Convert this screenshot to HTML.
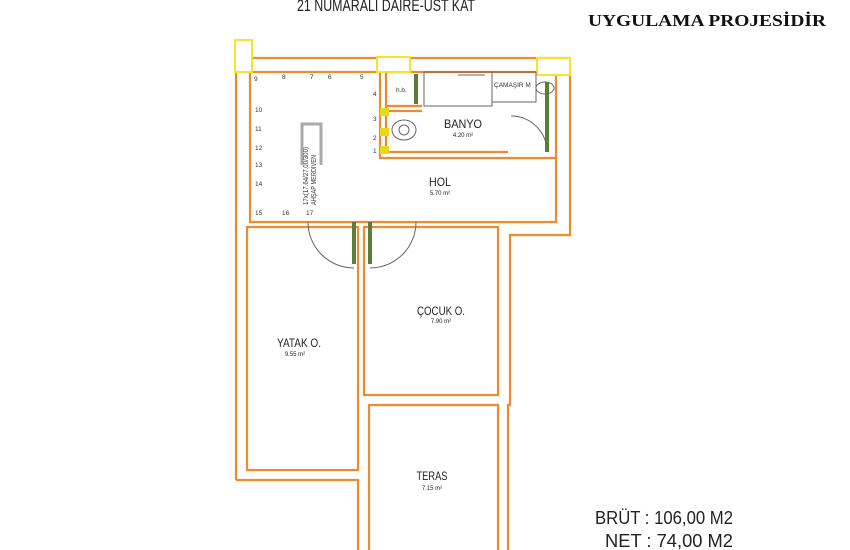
<!DOCTYPE html>
<html><head><style>
body{margin:0;background:#fff;}
svg{display:block}
text{font-family:"Liberation Sans",sans-serif;}
</style></head><body>
<svg width="850" height="550" viewBox="0 0 850 550" xmlns="http://www.w3.org/2000/svg">
<rect width="850" height="550" fill="#fff"/>
<text x="297" y="11" font-size="17" fill="#222" textLength="178" lengthAdjust="spacingAndGlyphs">21 NUMARALI DAİRE-ÜST KAT</text>
<text x="588" y="26" font-size="17" font-weight="bold" fill="#111" style="font-family:'Liberation Serif',serif" textLength="238" lengthAdjust="spacingAndGlyphs">UYGULAMA PROJESİDİR</text>
<g fill="none" stroke="#f08a30" stroke-width="2.2">
<polyline points="236,480 236,58 570,58 570,235 510,235 510,405 508,405 508,550"/>
<polyline points="358,550 358,480 236,480"/>
<polyline points="250,72 556,72 556,222 250,222 250,72"/>
<rect x="247" y="227" width="111" height="243"/>
<rect x="364" y="227" width="134" height="168"/>
<polyline points="369,550 369,405 498,405 498,550"/>
<polyline points="380,72 380,158 556,158"/>
<polyline points="386,72 386,152 508,152"/>
<line x1="386" y1="106" x2="422" y2="106"/>
<line x1="386" y1="111" x2="422" y2="111"/>
</g>
<g fill="#fff" stroke="#f5e52a" stroke-width="2">
<rect x="235" y="40" width="17" height="32"/>
<rect x="377" y="57" width="33" height="15"/>
<rect x="537" y="58" width="33" height="17"/>
</g>
<g fill="#e8d818"><rect x="380" y="108" width="9" height="8"/><rect x="380" y="128" width="9" height="8"/><rect x="380" y="146" width="9" height="8"/></g>
<g fill="none" stroke="#666" stroke-width="1">
<rect x="424" y="72" width="68" height="34"/>
<line x1="458" y1="75" x2="485" y2="75"/>
<rect x="492" y="72" width="44" height="30"/>
<ellipse cx="545" cy="88" rx="9" ry="6"/>
<ellipse cx="404" cy="130" rx="12" ry="10"/>
<circle cx="404" cy="130" r="5"/>
<path d="M547 152 A 36 36 0 0 0 511 116"/>
<path d="M308 222 A 46 46 0 0 0 354 268"/>
<path d="M416 222 A 46 46 0 0 1 370 268"/>
</g>
<g stroke="#5b7d3a" stroke-width="4" fill="none">
<line x1="416" y1="74" x2="416" y2="104"/>
<line x1="547" y1="82" x2="547" y2="152"/>
<line x1="354" y1="222" x2="354" y2="264"/>
<line x1="370" y1="222" x2="370" y2="264"/>
</g>
<path d="M302 165 L302 124 L321 124 L321 165" fill="none" stroke="#aaa" stroke-width="3"/>
<g font-size="6.5" fill="#333">
<text x="254" y="81">9</text><text x="282" y="79">8</text><text x="310" y="79">7</text><text x="328" y="79">6</text><text x="360" y="79">5</text>
<text x="373" y="96">4</text><text x="373" y="121">3</text><text x="373" y="140">2</text><text x="373" y="153">1</text>
<text x="255" y="112">10</text><text x="255" y="131">11</text><text x="255" y="150">12</text><text x="255" y="167">13</text><text x="255" y="186">14</text>
<text x="255" y="215">15</text><text x="282" y="215">16</text><text x="306" y="215">17</text>
<text x="396" y="92">h.b.</text><text x="494" y="87">ÇAMAŞIR M</text>
</g>
<text font-size="7" fill="#333" transform="translate(308,205) rotate(-90)" textLength="58" lengthAdjust="spacingAndGlyphs">17x(17.64/27.00/300)</text>
<text font-size="7" fill="#333" transform="translate(316,205) rotate(-90)" textLength="50" lengthAdjust="spacingAndGlyphs">AHŞAP MERDİVEN</text>
<g fill="#222" text-anchor="middle">
<text x="463" y="128" font-size="12" textLength="38" lengthAdjust="spacingAndGlyphs">BANYO</text><text x="463" y="137" font-size="6">4.20 m²</text>
<text x="440" y="186" font-size="12" textLength="22" lengthAdjust="spacingAndGlyphs">HOL</text><text x="440" y="195" font-size="6">5.70 m²</text>
<text x="441" y="315" font-size="12" textLength="48" lengthAdjust="spacingAndGlyphs">ÇOCUK O.</text><text x="441" y="323" font-size="6">7.90 m²</text>
<text x="299" y="347" font-size="12" textLength="44" lengthAdjust="spacingAndGlyphs">YATAK O.</text><text x="295" y="356" font-size="6">9.55 m²</text>
<text x="432" y="480" font-size="12" textLength="31" lengthAdjust="spacingAndGlyphs">TERAS</text><text x="432" y="490" font-size="6">7.15 m²</text>
</g>
<text x="595" y="524" font-size="18" fill="#222" textLength="138" lengthAdjust="spacingAndGlyphs">BRÜT : 106,00 M2</text>
<text x="605" y="547" font-size="18" fill="#222" textLength="128" lengthAdjust="spacingAndGlyphs">NET :   74,00 M2</text>
</svg>
</body></html>
